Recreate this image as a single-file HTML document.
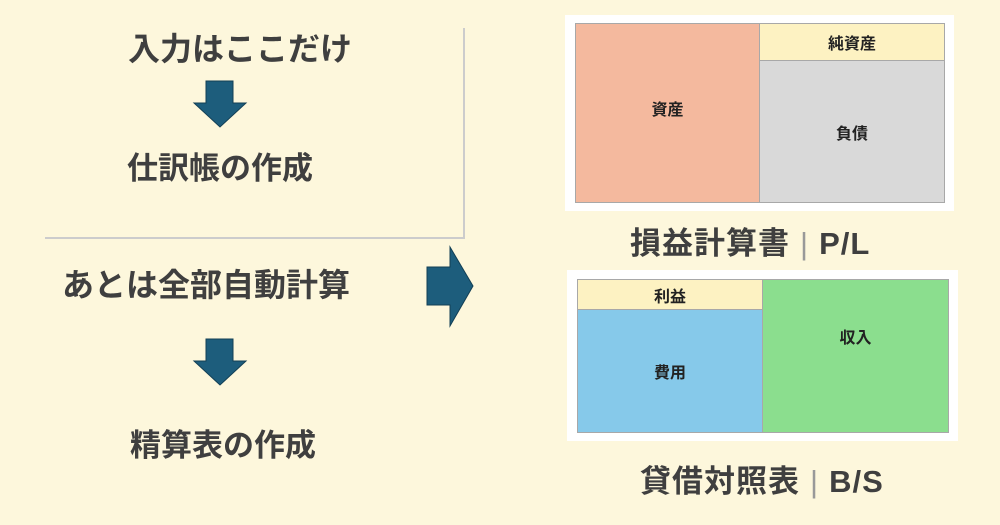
<!DOCTYPE html>
<html><head><meta charset="utf-8"><style>
body{margin:0;width:1000px;height:525px;background:#fdf7dc;position:relative;overflow:hidden;font-family:"Liberation Sans","Noto Sans CJK JP",sans-serif;}
.t{position:absolute;font-weight:bold;color:#3f3f3f;white-space:nowrap;}
.b{position:absolute;box-sizing:border-box;border:1.5px solid #a8a8a8;display:flex;align-items:center;justify-content:center;font-size:16px;font-weight:bold;color:#222;}
</style></head><body>
<div class="t" style="left:128px;top:24px;font-size:32px;">入力はここだけ</div>
<div class="t" style="left:127px;top:143px;font-size:31px;">仕訳帳の作成</div>
<div class="t" style="left:62px;top:260px;font-size:32px;">あとは全部自動計算</div>
<div class="t" style="left:130px;top:420px;font-size:31px;">精算表の作成</div>
<div style="position:absolute;left:463px;top:28px;width:1.5px;height:210px;background:#ccc"></div>
<div style="position:absolute;left:45px;top:237px;width:420px;height:1.5px;background:#ccc"></div>
<svg style="position:absolute;left:0;top:0" width="1000" height="525">
<polygon points="206,81 233,81 233,103 246,103 220,127 194,103 206,103" fill="#1d5d7c" stroke="#123f55" stroke-width="1"/>
<polygon points="206,339 233,339 233,361 246,361 220,385 194,361 206,361" fill="#1d5d7c" stroke="#123f55" stroke-width="1"/>
<polygon points="427,267 450,267 450,247 473,286 450,326 450,305 427,305" fill="#1d5d7c" stroke="#123f55" stroke-width="1"/>
</svg>
<div style="position:absolute;left:565px;top:15px;width:389px;height:196px;background:#fff"></div>
<div class="b" style="left:575px;top:23px;width:185px;height:180px;background:#f4b99e;padding-bottom:10px">資産</div>
<div class="b" style="left:759px;top:23px;width:186px;height:38px;background:#fdf2c2">純資産</div>
<div class="b" style="left:759px;top:60px;width:186px;height:143px;background:#d9d9d9">負債</div>
<div class="t" style="left:630px;top:218px;font-size:31px;letter-spacing:1px;">損益計算書<span style="font-weight:normal;color:#999;margin:0 10px">|</span>P/L</div>
<div style="position:absolute;left:567px;top:270px;width:391px;height:171px;background:#fff"></div>
<div class="b" style="left:577px;top:279px;width:186px;height:31px;background:#fdf2c2">利益</div>
<div class="b" style="left:577px;top:309px;width:186px;height:124px;background:#86c9ea">費用</div>
<div class="b" style="left:762px;top:279px;width:187px;height:154px;background:#8bde8e;padding-bottom:40px">収入</div>
<div class="t" style="left:640px;top:456px;font-size:31px;letter-spacing:1px;">貸借対照表<span style="font-weight:normal;color:#999;margin:0 10px">|</span>B/S</div>
</body></html>
